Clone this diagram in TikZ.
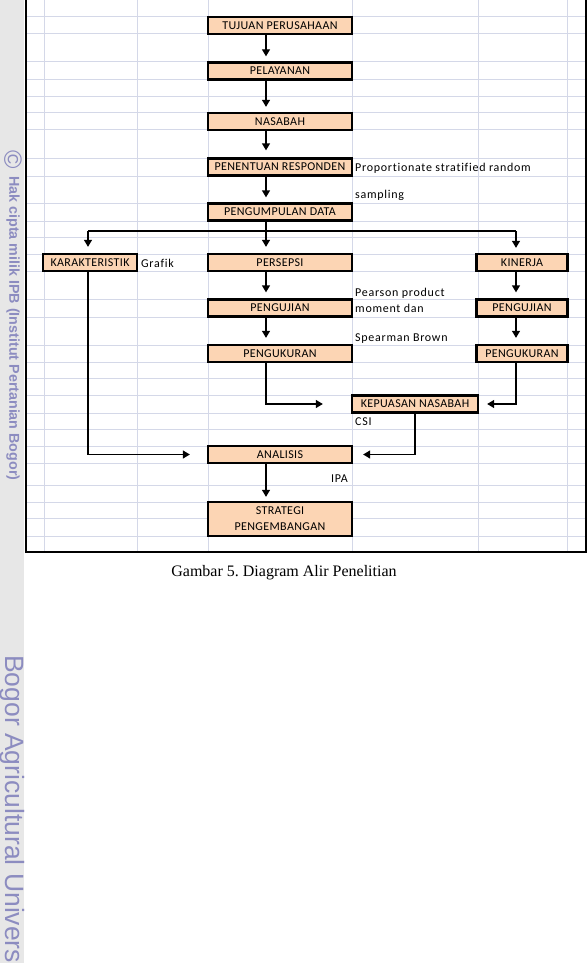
\documentclass[tikz,border=0pt]{standalone}
\usepackage{fontspec}
\setmainfont{Liberation Serif}
\newfontfamily\cellfont[LetterSpace=3,Ligatures=NoCommon]{Carlito}
\newfontfamily\notefont[LetterSpace=6,Ligatures=NoCommon]{Carlito}
\newfontfamily\markfont{Liberation Sans}
\usetikzlibrary{positioning,arrows.meta}
\usepackage{xcolor}
\definecolor{cellc}{RGB}{252,213,180}
\definecolor{gridc}{RGB}{212,216,232}
\definecolor{stripc}{RGB}{231,231,231}
\definecolor{markc}{RGB}{140,140,192}
\tikzset{
  cell/.style={draw=black, line width=2.3pt, fill=cellc, align=center, minimum height=17pt, inner sep=0pt, font=\cellfont\fontsize{12}{16}\selectfont},
  wide/.style={cell, minimum width=144pt},
  side/.style={cell, minimum width=91pt},
  note/.style={anchor=base west, inner sep=0pt, font=\notefont\fontsize{12}{14}\selectfont},
  flow/.style={-{Triangle[length=7pt,width=8pt]}, line width=1.3pt, black},
  gridln/.style={gridc, line width=1pt},
  wmark/.style={markc, inner sep=0pt, rotate=-90, anchor=west}
}
\frenchspacing

\begin{document}
\begin{tikzpicture}[x=1pt, y=-1pt]
  \useasboundingbox (0,0) rectangle (588,963);
  \fill[stripc] (0,0) rectangle (24,963);

  % sheet grid
  \foreach \gy in {17,34,62,80,97,113,130,158,176,203,221,237,254,271,299,317,345,362,378,395,413,429,446,463,485,502,518,536}
    \draw[gridln] (26,\gy) -- (586,\gy);
  \foreach \gx in {44,137,208,352,478,567}
    \draw[gridln] (\gx,0) -- (\gx,552);
  \draw[line width=1.3pt] (26,-2) -- (26,552) -- (586,552) -- (586,-2);

  % main column
  \node[wide] (tuj) at (280,25.5) {TUJUAN PERUSAHAAN};
  \node[wide] (pel) at (280,71) {PELAYANAN};
  \node[wide] (nas) at (280,121.5) {NASABAH};
  \node[wide] (pen) at (280,167) {PENENTUAN RESPONDEN};
  \node[wide] (pgd) at (280,212) {PENGUMPULAN DATA};
  \node[side, minimum width=94pt] (kar) at (90,262.5) {KARAKTERISTIK};
  \node[wide] (per) at (280,262.5) {PERSEPSI};
  \node[side] (kin) at (522,262.5) {KINERJA};
  \node[wide] (uji) at (280,308) {PENGUJIAN};
  \node[side] (ujk) at (522,308) {PENGUJIAN};
  \node[wide] (ukr) at (280,353.5) {PENGUKURAN};
  \node[side] (ukk) at (522,353.5) {PENGUKURAN};
  \node[cell, minimum width=126pt] (kep) at (415,404) {KEPUASAN NASABAH};
  \node[wide] (ana) at (280,454.5) {ANALISIS};
  \node[wide, minimum height=34pt] (str) at (280,519) {STRATEGI\\PENGEMBANGAN};

  % side notes
  \node[note] (grf) at (141,267) {Grafik};
  \node[note] (prs) at (355,171) {Proportionate stratified random};
  \node[note] (smp) at (355,198) {sampling};
  \node[note] (pea) at (355,296) {Pearson product};
  \node[note] (mom) at (355,312) {moment dan};
  \node[note] (spb) at (355,341) {Spearman Brown};
  \node[note] (csi) at (355,425) {CSI};
  \node[note, anchor=base east] (ipa) at (348,482) {IPA};

  % connectors
  \coordinate (ax) at (266,0);
  \coordinate (lx) at (88,0);
  \coordinate (rx) at (516,0);
  \coordinate (bus) at (0,231);
  \draw[flow, shorten >=5pt] (tuj.south -| ax) -- (pel.north -| ax);
  \draw[flow, shorten >=5pt] (pel.south -| ax) -- (nas.north -| ax);
  \draw[flow, shorten >=7pt] (nas.south -| ax) -- (pen.north -| ax);
  \draw[flow, shorten >=5pt] (pen.south -| ax) -- (pgd.north -| ax);
  \draw[flow, shorten >=6pt] (pgd.south -| ax) -- (per.north -| ax);
  \draw[line width=1.3pt] (bus -| lx) -- (bus -| rx);
  \draw[flow, shorten >=6pt] (bus -| lx) -- (kar.north -| lx);
  \draw[flow, shorten >=5pt] (bus -| rx) -- (kin.north -| rx);
  \draw[flow, shorten >=6pt] (per.south -| ax) -- (uji.north -| ax);
  \draw[flow, shorten >=6pt] (uji.south -| ax) -- (ukr.north -| ax);
  \draw[flow, shorten >=6pt] (kin.south -| rx) -- (ujk.north -| rx);
  \draw[flow, shorten >=6pt] (ujk.south -| rx) -- (ukk.north -| rx);
  \draw[flow, shorten >=28pt] (ukr.south -| ax) |- (kep.west);
  \draw[flow, shorten >=8pt] (ukk.south -| rx) |- (kep.east);
  \draw[flow, shorten >=10pt] (kep.south) |- (ana.east);
  \draw[flow, shorten >=17pt] (kar.south -| lx) |- (ana.west);
  \draw[flow, shorten >=4pt] (ana.south -| ax) -- (str.north -| ax);

  \node[font=\fontsize{16}{18}\selectfont] (cap) at (284,573) {Gambar 5. Diagram Alir Penelitian};

  % watermark
  \node[wmark, anchor=center, font=\markfont\fontsize{25}{25}\selectfont] (cpy) at (13,160) {©};
  \node[wmark, font=\markfont\bfseries\fontsize{14.3}{15}\selectfont] (hak) at (13,176) {Hak cipta milik IPB (Institut Pertanian Bogor)};
  \node[wmark, font=\markfont\fontsize{26.5}{27}\selectfont] (bau) at (12,655) {Bogor Agricultural Univers};
\end{tikzpicture}
\end{document}
